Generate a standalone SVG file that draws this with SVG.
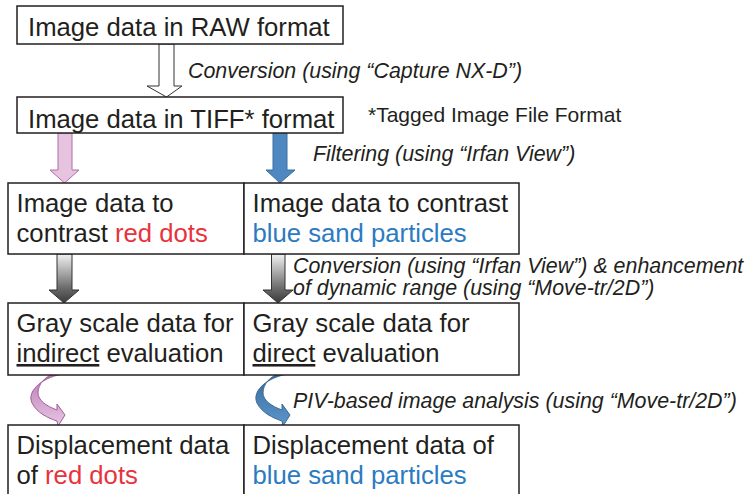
<svg xmlns="http://www.w3.org/2000/svg" width="750" height="494" viewBox="0 0 750 494">
<style>
.box{fill:#fff;stroke:#231f20;stroke-width:1.5}
.t{font-family:"Liberation Sans",Arial,sans-serif;font-size:25.7px;fill:#231f20}
.lbl{font-family:"Liberation Sans",Arial,sans-serif;font-size:21.4px;font-style:italic;fill:#231f20}
.note{font-family:"Liberation Sans",Arial,sans-serif;font-size:21px;fill:#231f20}
.red{fill:#e8333c}
.blue{fill:#2b7bc2}
.u{text-decoration:underline}
</style>
<defs>
<linearGradient id="gray" x1="0" y1="0" x2="0" y2="1">
<stop offset="0" stop-color="#f2f2f2"/>
<stop offset="0.7" stop-color="#6a6a6a"/>
<stop offset="1" stop-color="#3a3a3a"/>
</linearGradient>
<linearGradient id="pinkc" x1="0" y1="0" x2="0" y2="1">
<stop offset="0" stop-color="#b77bb4"/>
<stop offset="1" stop-color="#e8c6e2"/>
</linearGradient>
<linearGradient id="bluec" x1="0" y1="0" x2="0" y2="1">
<stop offset="0" stop-color="#3a6a98"/>
<stop offset="1" stop-color="#5b96cc"/>
</linearGradient>
<path id="curve" d="M64,374 C45,376 26,390 32,403 C37,413 48,418 57,421 L58,426 L65,415 L57,404 L57,410 C46,406 38,400 38,393 C38,384 45,377 53,374 Z"/>
</defs>

<g id="connectors">
<polygon points="159,44 174,44 174,86 182,86 166.5,97 147,86 159,86" fill="#fff" stroke="#333" stroke-width="1"/>
<polygon points="58,133 72,133 72,170 79,170 64.5,183 50,170 58,170" fill="#e6c3de" stroke="#b46caa" stroke-width="1"/>
<polygon points="273,133 287,133 287,170 295,170 280,183 266,170 273,170" fill="#4f87c0" stroke="#3c6fa5" stroke-width="1"/>
<polygon points="57,254 72,254 72,290 79,290 64,303 49,290 57,290" fill="url(#gray)" stroke="#333" stroke-width="1"/>
<polygon points="271.5,254 285,254 285,290 293,290 278,303 263,290 271.5,290" fill="url(#gray)" stroke="#333" stroke-width="1"/>
<use href="#curve" fill="url(#pinkc)" stroke="#a35d9f" stroke-width="1"/>
<use href="#curve" transform="translate(225,0)" fill="url(#bluec)" stroke="#3a6a98" stroke-width="1"/>
<text class="lbl" x="188" y="78">Conversion (using “Capture NX-D”)</text>
<text class="lbl" x="313" y="161">Filtering (using “Irfan View”)</text>
<text class="lbl" x="293" y="273">Conversion (using “Irfan View”) &amp; enhancement</text>
<text class="lbl" x="293" y="295">of dynamic range (using “Move-tr/2D”)</text>
<text class="lbl" x="293" y="408">PIV-based image analysis (using “Move-tr/2D”)</text>
</g>

<g id="raw">
<rect class="box" x="17" y="6" width="326" height="38"/>
<text class="t" x="28" y="35.5">Image data in RAW format</text>
</g>
<g id="tiff">
<rect class="box" x="17" y="97" width="326" height="36"/>
<text class="t" x="28" y="128">Image data in TIFF* format</text>
</g>
<text id="note" class="note" x="368" y="122">*Tagged Image File Format</text>

<g id="contrast-red">
<rect class="box" x="8" y="183" width="236" height="71"/>
<text class="t" x="16.5" y="212">Image data to</text>
<text class="t" x="16.5" y="242">contrast <tspan class="red">red dots</tspan></text>
</g>
<g id="contrast-blue">
<rect class="box" x="244" y="183" width="275" height="71"/>
<text class="t" x="252.5" y="212">Image data to contrast</text>
<text class="t blue" x="252.5" y="242">blue sand particles</text>
</g>

<g id="gray-indirect">
<rect class="box" x="8" y="303" width="236" height="72"/>
<text class="t" x="16.5" y="332">Gray scale data for</text>
<text class="t" x="16.5" y="362"><tspan class="u">indirect</tspan> evaluation</text>
</g>
<g id="gray-direct">
<rect class="box" x="244" y="303" width="275" height="72"/>
<text class="t" x="252.5" y="332">Gray scale data for</text>
<text class="t" x="252.5" y="362"><tspan class="u">direct</tspan> evaluation</text>
</g>

<g id="disp-red">
<rect class="box" x="8" y="425" width="236" height="80"/>
<text class="t" x="16.5" y="453.5">Displacement data</text>
<text class="t" x="16.5" y="484">of <tspan class="red">red dots</tspan></text>
</g>
<g id="disp-blue">
<rect class="box" x="244" y="425" width="275" height="80"/>
<text class="t" x="252.5" y="453.5">Displacement data of</text>
<text class="t blue" x="252.5" y="484">blue sand particles</text>
</g>
</svg>
